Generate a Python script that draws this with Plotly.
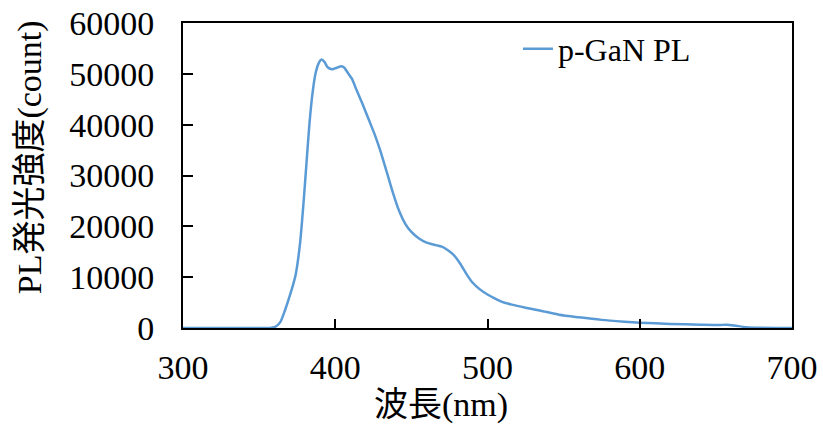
import plotly.graph_objects as go

# PL spectrum of p-GaN: wavelength (nm) vs. intensity (count)
wavelength = [300, 340, 355, 358, 361, 364, 367, 370, 374, 377, 379, 381, 383, 385, 387,
              389, 391, 393, 395, 398, 401, 404, 406, 408, 411, 414, 418, 422, 426,
              430, 434, 438, 442, 446, 450, 455, 460, 466, 470, 474, 478, 482, 486,
              490, 495, 500, 505, 510, 516, 525, 535, 547, 560, 575, 590, 600, 620,
              640, 652, 657, 662, 670, 680, 700]
intensity = [0, 0, 0, 50, 300, 1200, 3500, 6200, 10500, 17000, 24000, 32000, 40000, 46000, 50000,
             52000, 52800, 52300, 51300, 50900, 51200, 51500, 51200, 50300, 49000, 46800, 44000, 41000, 38000,
             34500, 30500, 26500, 23000, 20500, 18900, 17600, 16800, 16300, 16000, 15300, 14300, 12700, 10700,
             9000, 7600, 6600, 5800, 5100, 4600, 4000, 3400, 2600, 2100, 1600, 1250, 1050, 800,
             650, 580, 650, 500, 150, 50, 0]

x_ticks = [300, 400, 500, 600, 700]
y_ticks = [0, 10000, 20000, 30000, 40000, 50000, 60000]

FONT = "'Liberation Serif', 'Times New Roman', 'Noto Sans CJK JP', serif"
LINE_BLUE = "#5B9BD5"

fig = go.Figure()
fig.add_trace(go.Scatter(
    x=wavelength, y=intensity, mode="lines", name="p-GaN PL",
    line=dict(color=LINE_BLUE, width=2.5, shape="spline", smoothing=0.6),
))

axis_common = dict(
    showline=True, linecolor="black", linewidth=2, mirror=True,
    ticks="inside", tickcolor="black", tickwidth=2,
    showgrid=False, zeroline=False, automargin=False,
    tickfont=dict(family=FONT, size=34, color="black"),
)

fig.update_layout(
    width=823, height=428,
    margin=dict(l=183, r=31, t=23, b=100, autoexpand=False),
    paper_bgcolor="white", plot_bgcolor="white",
    font=dict(family=FONT, color="black"),
    xaxis=dict(range=[300, 700], tickvals=x_ticks, ticklen=9,
               ticklabelstandoff=8, **axis_common),
    yaxis=dict(range=[0, 60000], tickvals=y_ticks, tickformat="d", ticklen=10,
               ticklabelstandoff=20, **axis_common),
    showlegend=True,
    legend=dict(x=0.55, y=(328 - 49) / 305, xanchor="left", yanchor="middle",
                bgcolor="rgba(0,0,0,0)",
                font=dict(family=FONT, size=32, color="black")),
    annotations=[
        dict(text="波長(nm)", xref="paper", yref="paper",
             x=(441 - 183) / 610, y=-(405 - 328) / 305,
             xanchor="center", yanchor="middle", showarrow=False,
             font=dict(family=FONT, size=34, color="black")),
        dict(text="PL発光強度(count)", xref="paper", yref="paper",
             x=-(183 - 30) / 610, y=(328 - 157) / 305, textangle=-90,
             xanchor="center", yanchor="middle", showarrow=False,
             font=dict(family=FONT, size=34, color="black")),
    ],
)

fig.write_html("out.html")
